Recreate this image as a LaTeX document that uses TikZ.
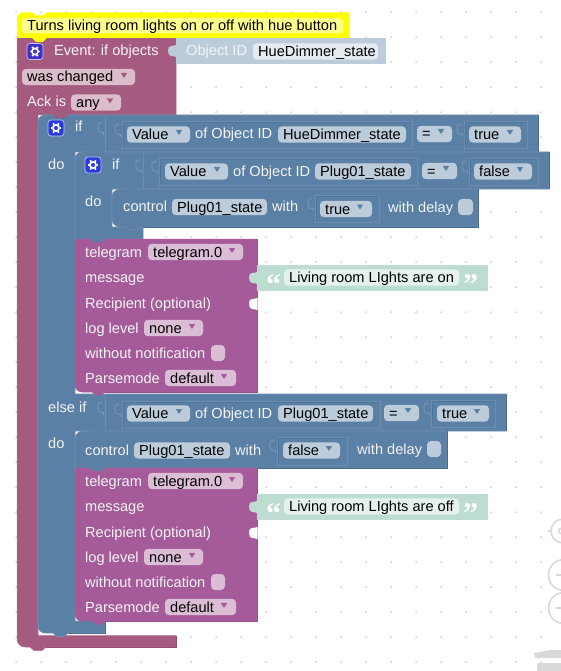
\documentclass[tikz,border=0pt]{standalone}
\usepackage{fontspec}
\setmainfont{Liberation Sans}
\newfontfamily\qfont{Liberation Serif}
\definecolor{evt}{HTML}{A55B80}
\definecolor{evtd}{HTML}{8F4F6F}
\definecolor{evtl}{HTML}{B0708F}
\definecolor{evtf}{HTML}{DBBDCC}
\definecolor{blu}{HTML}{5B80A5}
\definecolor{blud}{HTML}{476A8C}
\definecolor{bluh}{HTML}{50759A}
\definecolor{blum}{HTML}{6C8DAE}
\definecolor{blul}{HTML}{7C99B7}
\definecolor{bluf}{HTML}{BDCCDB}
\definecolor{tel}{HTML}{A55B99}
\definecolor{teld}{HTML}{955289}
\definecolor{telf}{HTML}{DBBDD6}
\definecolor{oid}{HTML}{BDCCDB}
\definecolor{oidf}{HTML}{E5EBF1}
\definecolor{strb}{HTML}{BDDDD1}
\definecolor{strf}{HTML}{E5F1ED}
\definecolor{lab}{HTML}{F4F4F4}
\definecolor{ylw}{HTML}{FFFF00}
\definecolor{ylwi}{HTML}{FFFF8C}
\definecolor{grd}{HTML}{D8D8D8}
\definecolor{uig}{HTML}{D9D9D9}
\definecolor{icoa}{HTML}{4230C4}
\definecolor{icob}{HTML}{2A3CDC}
\newcount\nodeno
\tikzset{
  txtbase/.style={anchor=base west,inner sep=0pt,font=\fontsize{14.6}{16}\selectfont},
  evtblock/.style={fill=evt,draw=evtl,line width=.5pt},
  blublock/.style={fill=blu,draw=blum,line width=.6pt},
  telblock/.style={fill=tel,draw=tel,line width=.5pt},
  socket/.style={draw=blum,line width=.8pt},
  socketd/.style={draw=bluh,line width=.5pt},
  darkblu/.style={draw=blud,line width=.9pt},
  darkevt/.style={draw=evtd,line width=.9pt},
  darktel/.style={draw=teld,line width=.7pt},
  fieldbox/.style={rounded corners=4pt}
}
% label at (x, centre y)
\newcommand\Lbl[4][lab]{\global\advance\nodeno by 1
  \node[txtbase,text=#1] (n\the\nodeno) at (#2,#3+5) {#4};}
% field: x0,x1,yc,fill,text
\newcommand\Fld[5]{\fill[fieldbox,#4] (#1,#3-8.2) rectangle (#2,#3+8.2);
  \Lbl[black]{#1+5}{#3}{#5}}
\newcommand\Arw[3]{\fill[#3] (#1-3.2,#2-3) -- (#1+3.2,#2-3) -- (#1,#2+2) -- cycle;}
\newcommand\Chk[4]{\fill[rounded corners=4pt,#4] (#1,#3-8) rectangle (#2,#3+8);}
\newcommand\BTab[3]{\fill[#3] (#1,#2-.5) -- (#1,#2) -- (#1+4,#2+3.2) -- (#1+11,#2+3.2) -- (#1+15,#2) -- (#1+15,#2-.5) -- cycle;}
\newcommand\Bump[3]{\fill[#3] (#1+.5,#2) -- (#1,#2) .. controls (#1-3,#2) and (#1-3,#2+2) .. (#1-5,#2+1) .. controls (#1-9,#2) and (#1-9,#2+11) .. (#1-5,#2+11) .. controls (#1-3,#2+10) and (#1-3,#2+12) .. (#1,#2+12) -- (#1+.5,#2+12) -- cycle;}
\newcommand\Hook[2]{\draw[blul,line width=.8pt] (#1-3,#2+2) .. controls (#1-7,#2+2) and (#1-7.5,#2+5) .. (#1-7,#2+8) .. controls (#1-7,#2+12) and (#1-5,#2+13) .. (#1-2,#2+12) -- (#1-1,#2+15);}
\newcommand\Sock[4]{\draw[socket] (#1,#2) rectangle (#3,#4);
  \draw[socketd] (#1+1,#4-1) -- (#1+1,#2+1) -- (#3-1,#2+1);
  \Hook{#1}{#2+1}}
\newcommand\Gear[3]{\fill[rounded corners=3pt,#3,draw=white!70!#3,line width=.7pt] (#1-8,#2-8) rectangle (#1+8,#2+8);
  \draw[white,line width=1.7pt] (#1,#2) circle (3.1pt);
  \foreach \a in {0,60,...,300}{\draw[white,line width=1.7pt] (#1,#2) ++(\a:3.8pt) -- ++(\a:1.6pt);}}
\newcommand\Telegram[1]{% top y
  \pgfmathsetmacro\yt{#1}
  \path[telblock] (75,\yt) -- (257,\yt) -- (257,\yt+153) -- (105,\yt+153) -- (101,\yt+156) -- (96,\yt+156) -- (92,\yt+153) [rounded corners=7pt] -- (75,\yt+153) [sharp corners] -- (75,\yt) -- cycle;
  \draw[darktel] (257,\yt) -- (257,\yt+153) -- (105,\yt+153);
  \BTab{90}{\yt}{blu}
  \Lbl{85}{\yt+13}{telegram}
  \Fld{148}{243}{\yt+13}{telf}{telegram.0}\Arw{232}{\yt+12}{tel}
  \Lbl{85}{\yt+38}{message}
  \Lbl{85}{\yt+64}{Recipient (optional)}
  \Lbl{85}{\yt+89}{log level}
  \Fld{144}{203}{\yt+89}{telf}{none}\Arw{192}{\yt+88}{tel}
  \Lbl{85}{\yt+114}{without notification}
  \Chk{211}{225}{\yt+114}{telf}
  \Lbl{85}{\yt+139}{Parsemode}
  \Fld{165}{236}{\yt+139}{telf}{default}\Arw{224}{\yt+138}{tel}
  \Bump{257}{\yt+59}{white}
  % string block
  \fill[strb] (257,\yt+26) rectangle (488,\yt+52);
  \Bump{257}{\yt+33}{strb}
  \Lbl[white]{266}{\yt+50}{\qfont\bfseries\fontsize{30}{30}\selectfont “}
  \Lbl[white]{463}{\yt+50}{\qfont\bfseries\fontsize{30}{30}\selectfont ”}
}
\begin{document}
\begin{tikzpicture}[x=1pt,y=-1pt]
\clip (0,0) rectangle (561,671);
\fill[white] (0,0) rectangle (561,671);
% grid
\foreach \gx in {16,41,...,541}{\foreach \gy in {12,37,...,662}{
  \draw[grd,line width=.7pt] (\gx-1.2,\gy) -- (\gx+1.2,\gy) (\gx,\gy-1.2) -- (\gx,\gy+1.2);}}
% workspace controls
\draw[uig,line width=1.6pt] (563,531) circle (12pt);
\draw[uig,line width=1.6pt] (548,531) -- (551,531);
\draw[uig,line width=1.6pt] (561,531) circle (2.5pt);
\draw[uig,line width=1.6pt] (564,575) circle (15.5pt);
\draw[uig,line width=1.6pt] (564,608) circle (15.5pt);
\draw[uig,line width=1.6pt] (556,575) -- (570,575) (556,608) -- (570,608);
\fill[uig] (534,653) -- (550,650) -- (561,650) -- (561,658) -- (535,658) -- cycle;
\fill[uig] (537,663) rectangle (561,671);
% event block
\path[evtblock] (17,38) -- (176,38) -- (176,115) -- (38,115) -- (38,635.5) -- (176,635.5) -- (176,647) -- (46,647) -- (42,650.5) -- (34,650.5) -- (30,647) [rounded corners=8pt] -- (17,647) [sharp corners] -- (17,38) -- cycle;
\draw[darkevt] (176,635.5) -- (176,647) -- (46,647);
% object id block
\fill[oid] (176,38.5) rectangle (386,64);
\Bump{176}{45}{oid}
% comment
\fill[ylw] (32,12.5) -- (36,15.5) -- (43,15.5) -- (47,12.5) -- (349,12.5) -- (349,38) -- (47,38) -- (43,42) -- (36,42) -- (32,38) -- (17,38) [rounded corners=6pt] -- (17,12.5) [sharp corners] -- (32,12.5) -- cycle;
\fill[ylwi,rounded corners=4pt] (22,18) rectangle (343,33.5);
\Lbl[black]{27}{26}{Turns living room lights on or off with hue button}
% event contents
\Gear{35}{51.5}{icoa}
\Lbl{54}{51}{Event: if objects}
\Lbl{186}{51}{Object ID}
\Fld{253}{378}{51.5}{oidf}{HueDimmer\_state}
\Fld{22}{135}{77}{evtf}{was changed}\Arw{124}{76}{evt}
\Lbl{27}{102}{Ack is}
\Fld{71}{121}{102.5}{evtf}{any}\Arw{110}{101.5}{evt}
% outer if block
\path[blublock] (60,115) -- (538,115) -- (538,152) -- (75,152) -- (75,394) -- (506,394) -- (506,431) -- (75,431) -- (75,621) -- (105,621) -- (105,633) -- (68,633) -- (64,636.5) -- (57,636.5) -- (53,633) [rounded corners=7pt] -- (38,633) -- (38,115) [sharp corners] -- (60,115) -- cycle;
\draw[darkblu] (538,115) -- (538,152);
\draw[darkblu] (506,394) -- (506,431);
\draw[darkblu] (105,621) -- (105,633) -- (68,633);
\BTab{53}{115}{evt}
\Gear{56}{128}{icob}
\Lbl{75}{127}{if}
\draw[socket] (105,115.5) -- (105,152);
\Hook{105}{120}
\Sock{122}{121}{412}{148}
\Fld{127}{190}{134.5}{bluf}{Value}\Arw{179}{133}{blu}
\Lbl{195}{134}{of Object ID}
\Fld{278}{406}{134.5}{bluf}{HueDimmer\_state}
\Fld{417}{452}{134}{bluf}{=}\Arw{441}{132}{blu}
\Sock{464}{121}{527}{148}
\Fld{469}{521}{134.5}{bluf}{true}\Arw{510}{133}{blu}
\Lbl{48}{164}{do}
% inner if block
\path[blublock] (95,152) -- (549,152) -- (549,189) -- (112,189) -- (112,227) -- (143,227) -- (143,239) -- (75,239) [rounded corners=7pt] -- (75,152) [sharp corners] -- (95,152) -- cycle;
\draw[darkblu] (549,152) -- (549,189);
\BTab{90}{152}{blu}
\Gear{93}{165}{icob}
\Lbl{112}{164}{if}
\draw[socket] (143,152.5) -- (143,189);
\Hook{143}{158}
\Sock{159}{158}{417}{185}
\Fld{165}{228}{171.5}{bluf}{Value}\Arw{217}{170}{blu}
\Lbl{233}{171}{of Object ID}
\Fld{315}{411}{171.5}{bluf}{Plug01\_state}
\Fld{422}{457}{171}{bluf}{=}\Arw{446}{169}{blu}
\Sock{469}{158}{538}{185}
\Fld{474}{532}{171.5}{bluf}{false}\Arw{520}{170}{blu}
\Lbl{85}{201}{do}
% control 1
\path[blublock] (135,189) -- (478,189) -- (478,227) -- (140,227) -- (136,230) -- (129,230) -- (125,227) [rounded corners=8pt] -- (112,227) -- (112,189) [sharp corners] -- (135,189) -- cycle;
\draw[darkblu] (478,189) -- (478,227) -- (143,227);
\BTab{125}{189}{blu}
\Lbl{123}{206}{control}
\Fld{172}{267}{207}{bluf}{Plug01\_state}
\Lbl{272}{206}{with}
\Sock{315}{195}{379}{222}
\Fld{320}{372}{209}{bluf}{true}\Arw{360}{207.5}{blu}
\Lbl{388}{207}{with delay}
\Chk{458}{473}{207}{bluf}
% telegram 1
\Telegram{239}
\Fld{284}{459}{277.5}{strf}{Living room LIghts are on}
% else-if contents
\Lbl{48}{407}{else if}
\draw[socket] (105,394.5) -- (105,431);
\Hook{105}{400}
\Sock{122}{401}{380}{428}
\Fld{127}{190}{413.5}{bluf}{Value}\Arw{179}{412}{blu}
\Lbl{195}{413}{of Object ID}
\Fld{278}{373}{413.5}{bluf}{Plug01\_state}
\Fld{384}{419}{413}{bluf}{=}\Arw{408}{411}{blu}
\Sock{431}{400}{495}{427}
\Fld{437}{489}{413.5}{bluf}{true}\Arw{477}{412}{blu}
\Lbl{48}{443}{do}
% control 2
\path[blublock] (100,431) -- (447,431) -- (447,468) -- (75,468) [rounded corners=8pt] -- (75,431) [sharp corners] -- (100,431) -- cycle;
\draw[darkblu] (447,431) -- (447,468) -- (257,468);
\BTab{90}{431}{blu}
\Lbl{85}{450}{control}
\Fld{134}{230}{450.5}{bluf}{Plug01\_state}
\Lbl{235}{450}{with}
\Sock{277}{437}{347}{465}
\Fld{283}{340}{450.5}{bluf}{false}\Arw{329}{449}{blu}
\Lbl{357}{449}{with delay}
\Chk{427}{441}{449}{bluf}
% telegram 2
\Telegram{468}
\Fld{284}{459}{506.5}{strf}{Living room LIghts are off}
\end{tikzpicture}
\end{document}
